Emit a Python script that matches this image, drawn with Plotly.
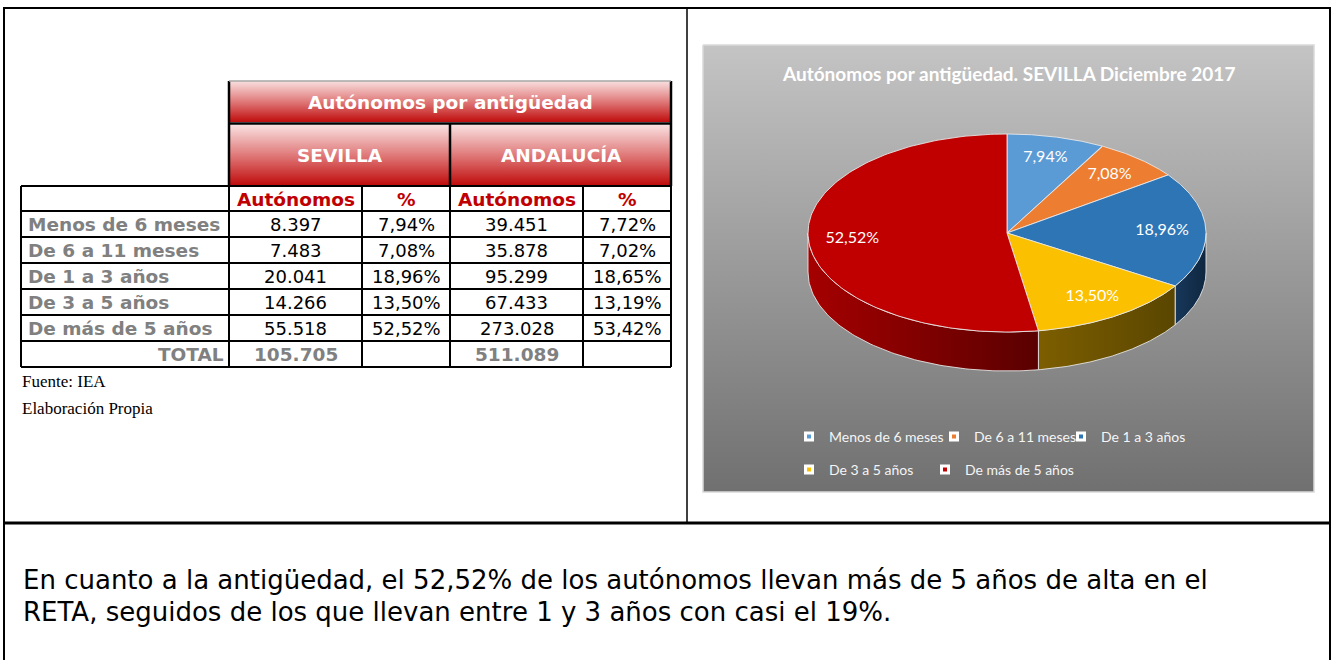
import numpy as np
import plotly.graph_objects as go

W, H = 1333, 660

# ---------------- data ----------------
categorias = ["Menos de 6 meses", "De 6 a 11 meses", "De 1 a 3 años",
              "De 3 a 5 años", "De más de 5 años"]
sevilla = [8397, 7483, 20041, 14266, 55518]
sevilla_pct = [7.94, 7.08, 18.96, 13.50, 52.52]
andalucia = [39451, 35878, 95299, 67433, 273028]
andalucia_pct = [7.72, 7.02, 18.65, 13.19, 53.42]
col_headers = ["", "Autónomos", "%", "Autónomos", "%"]
band_title = "Autónomos por antigüedad"
regiones = ["SEVILLA", "ANDALUCÍA"]
total_label = "TOTAL"
pie_title = "Autónomos por antigüedad. SEVILLA Diciembre 2017"
fuente = ["Fuente: IEA", "Elaboración Propia"]
texto = ["En cuanto a la antigüedad, el 52,52% de los autónomos llevan más de 5 años de alta en el",
         "RETA, seguidos de los que llevan entre 1 y 3 años con casi el 19%."]

# ---------------- styles ----------------
colores = ["#5b9bd5", "#ed7d31", "#2e75b6", "#fbc000", "#c00000"]
colores_lado = [("#3d6f9e", "#2b5273"), ("#a5541d", "#7a3d14"), ("#17375a", "#0f2740"),
                ("#7d5e00", "#5a4600"), ("#a50000", "#5a0000")]
GRAY = "#808080"
RED = "#c00000"
TFONT = "DejaVu Sans"
CFONT = "Lato"

# table layout (pixels)
COLS = [21, 229, 362, 450, 583, 671]
ROWS = [186, 211, 237, 263, 289, 315, 341, 367]
# legend marker positions (pixels) per item
LEG_POS = [(813, 437), (958, 437), (1085, 437), (813, 470), (949, 470)]


def fmt_int(v):
    return f"{v:,}".replace(",", ".")


def fmt_pct(p):
    return f"{p:.2f}%".replace(".", ",")


def px_x(x):
    return x / W


def px_y(y):
    return 1 - y / H


fig = go.Figure()


def rect(x0, y0, x1, y1):
    return [x0, x1, x1, x0, x0], [H - y0, H - y0, H - y1, H - y1, H - y0]


# chart panel background (vertical grey gradient)
PANEL = (703, 45, 1314, 492)
xs, ys = rect(*PANEL)
fig.add_trace(go.Scatter(x=xs, y=ys, mode="lines", fill="toself",
                         line=dict(color="#d9d9d9", width=1.5),
                         fillgradient=dict(type="vertical",
                                           colorscale=[[0, "#707070"], [1, "#c4c4c4"]]),
                         hoverinfo="skip", showlegend=False, xaxis="x", yaxis="y"))
# red header bands
for (x0, y0, x1, y1) in [(229, 81, 671, 122), (229, 125, 671, 185)]:
    xs, ys = rect(x0, y0, x1, y1)
    fig.add_trace(go.Scatter(x=xs, y=ys, mode="lines", fill="toself",
                             line=dict(color="rgba(0,0,0,0)", width=0),
                             fillgradient=dict(type="vertical",
                                               colorscale=[[0, "#c00d0d"], [0.5, "#e07a7a"], [1, "#f9e0e0"]]),
                             hoverinfo="skip", showlegend=False, xaxis="x", yaxis="y"))

# ---------- 3D-looking pie on its own axis ----------
CX, CY, RX, RY = 1007, 233, 199, 99
DEPTH = 39 / RY
x2_range = [(PANEL[0] - CX) / RX, (PANEL[2] - CX) / RX]
y2_range = [-(PANEL[3] - CY) / RY, (CY - PANEL[1]) / RY]

total_sev = sum(sevilla)
frac = np.concatenate([[0], np.cumsum(sevilla)]) / total_sev
EDGE = "rgba(235,235,235,0.85)"

# walls (front side)
for i in range(len(sevilla)):
    ta = 90 - 360 * frac[i]
    tb = 90 - 360 * frac[i + 1]
    hi, lo = min(ta, 0), max(tb, -180)
    if hi > lo:
        t = np.radians(np.linspace(hi, lo, 90))
        wx = np.concatenate([np.cos(t), np.cos(t[::-1]), [np.cos(t[0])]])
        wy = np.concatenate([np.sin(t), np.sin(t[::-1]) - DEPTH, [np.sin(t[0])]])
        fig.add_trace(go.Scatter(x=wx, y=wy, mode="lines", fill="toself",
                                 line=dict(color=EDGE, width=1),
                                 fillgradient=dict(type="horizontal",
                                                   colorscale=[[0, colores_lado[i][0]], [1, colores_lado[i][1]]]),
                                 hoverinfo="skip", showlegend=False, xaxis="x2", yaxis="y2"))

# tops
for i in range(len(sevilla)):
    ta = 90 - 360 * frac[i]
    tb = 90 - 360 * frac[i + 1]
    t = np.radians(np.linspace(ta, tb, 160))
    sx = np.concatenate([[0], np.cos(t), [0]])
    sy = np.concatenate([[0], np.sin(t), [0]])
    fig.add_trace(go.Scatter(x=sx, y=sy, mode="lines", fill="toself", fillcolor=colores[i],
                             line=dict(color=EDGE, width=1),
                             name=categorias[i], hoverinfo="name", showlegend=False,
                             xaxis="x2", yaxis="y2"))

# data labels
LR = 0.78
mids = np.radians(90 - 360 * (frac[:-1] + frac[1:]) / 2)
fig.add_trace(go.Scatter(x=LR * np.cos(mids), y=LR * np.sin(mids), mode="text",
                         text=[fmt_pct(p) for p in sevilla_pct],
                         textfont=dict(family=CFONT, size=16, color="white"),
                         hoverinfo="skip", showlegend=False, xaxis="x2", yaxis="y2"))

# legend entries (one legend per item)
legend_names = ["legend"] + [f"legend{k}" for k in range(2, len(categorias) + 1)]
for i, c in enumerate(categorias):
    fig.add_trace(go.Scatter(x=[None], y=[None], mode="markers", name=c,
                             marker=dict(symbol="square", size=7, color=colores[i],
                                         line=dict(color="white", width=3)),
                             legend=legend_names[i], xaxis="x2", yaxis="y2"))

# ---------- table (grid + cell texts) ----------
ann = []
shapes = []


def cell_text(txt, r, c, color, size, bold=False, align="center"):
    x0, x1 = COLS[c], COLS[c + 1]
    yc = (ROWS[r] + ROWS[r + 1]) / 2
    if align == "left":
        xx, xa = x0 + 5, "left"
    elif align == "right":
        xx, xa = x1 - 3, "right"
    else:
        xx, xa = (x0 + x1) / 2, "center"
    ann.append(dict(x=px_x(xx), y=px_y(yc + 0.5), xanchor=xa,
                    text=f"<b>{txt}</b>" if bold else txt,
                    font=dict(family=TFONT, size=size, color=color)))


for c, h in enumerate(col_headers):
    if h:
        cell_text(h, 0, c, RED, 18.5, bold=True)

body = [
    categorias,
    [fmt_int(v) for v in sevilla],
    [fmt_pct(p) for p in sevilla_pct],
    [fmt_int(v) for v in andalucia],
    [fmt_pct(p) for p in andalucia_pct],
]
for c, col in enumerate(body):
    for r, val in enumerate(col):
        if c == 0:
            cell_text(val, r + 1, c, GRAY, 18.5, bold=True, align="left")
        else:
            cell_text(val, r + 1, c, "black", 18)

tr = len(categorias) + 1
cell_text(total_label, tr, 0, GRAY, 18.5, bold=True, align="right")
cell_text(fmt_int(sum(sevilla)), tr, 1, GRAY, 18.5, bold=True)
cell_text(fmt_int(sum(andalucia)), tr, 3, GRAY, 18.5, bold=True)


def line(x0, y0, x1, y1, w=2, color="black"):
    return dict(type="line", xref="paper", yref="paper", x0=px_x(x0), y0=px_y(y0),
                x1=px_x(x1), y1=px_y(y1), line=dict(color=color, width=w), layer="above")


for yy in ROWS:
    shapes.append(line(COLS[0], yy, COLS[-1], yy, 2))
for xx in COLS:
    shapes.append(line(xx, ROWS[0], xx, ROWS[-1], 2))

# ---------- other texts ----------
ann.append(dict(x=px_x(450), y=px_y(102), text=f"<b>{band_title}</b>",
                font=dict(family=TFONT, size=18.5, color="white")))
ann.append(dict(x=px_x(340), y=px_y(155), text=f"<b>{regiones[0]}</b>",
                font=dict(family=TFONT, size=18.5, color="white")))
ann.append(dict(x=px_x(561), y=px_y(155), text=f"<b>{regiones[1]}</b>",
                font=dict(family=TFONT, size=18.5, color="white")))
ann.append(dict(x=px_x(1008), y=px_y(73), text=f"<b>{pie_title}</b>",
                font=dict(family=CFONT, size=19, color="white")))
for t, yy in zip(fuente, [382, 408]):
    ann.append(dict(x=px_x(20), y=px_y(yy), text=t, xanchor="left",
                    font=dict(family="Liberation Serif", size=17, color="black")))
for t, yy in zip(texto, [580, 612]):
    ann.append(dict(x=px_x(21), y=px_y(yy), text=t, xanchor="left",
                    font=dict(family=TFONT, size=26, color="black")))
for a in ann:
    a.setdefault("xanchor", "center")
    a.update(xref="paper", yref="paper", yanchor="middle", showarrow=False)

# ---------- frame lines ----------
shapes += [
    dict(type="rect", xref="paper", yref="paper", x0=px_x(4), y0=px_y(8), x1=px_x(1330), y1=px_y(664),
         line=dict(color="black", width=2), layer="above"),
    line(687, 8, 687, 523, 1.5),
    line(4, 523, 1330, 523, 3),
    line(229, 81, 229, 186, 2.5),
    line(671, 81, 671, 186, 2.5),
    line(229, 123.5, 671, 123.5, 2.5),
    line(450, 123.5, 450, 186, 2.5),
    line(229, 81, 671, 81, 1.5, "#a6a6a6"),
]

legend_common = dict(orientation="h", xanchor="left", yanchor="middle",
                     bgcolor="rgba(0,0,0,0)", borderwidth=0, itemwidth=30,
                     font=dict(family=CFONT, size=14, color="#f5f5f5"),
                     itemclick=False, itemdoubleclick=False)
legend_layouts = {}
for name, (mx, my) in zip(legend_names, LEG_POS):
    legend_layouts[name] = dict(x=px_x(mx - 24), y=px_y(my), **legend_common)

fig.update_layout(
    width=W, height=H, autosize=False,
    margin=dict(l=0, r=0, t=0, b=0),
    paper_bgcolor="white", plot_bgcolor="rgba(0,0,0,0)",
    xaxis=dict(domain=[0, 1], range=[0, W], visible=False, fixedrange=True),
    yaxis=dict(domain=[0, 1], range=[0, H], visible=False, fixedrange=True),
    xaxis2=dict(domain=[px_x(PANEL[0]), px_x(PANEL[2])], range=x2_range, visible=False,
                fixedrange=True, anchor="y2"),
    yaxis2=dict(domain=[px_y(PANEL[3]), px_y(PANEL[1])], range=y2_range, visible=False,
                fixedrange=True, anchor="x2"),
    annotations=ann,
    shapes=shapes,
    hovermode="closest",
    **legend_layouts,
)

fig.write_html("out.html", config={"displayModeBar": False},
               post_script="document.body.style.margin='0px';document.body.style.overflow='hidden';")
